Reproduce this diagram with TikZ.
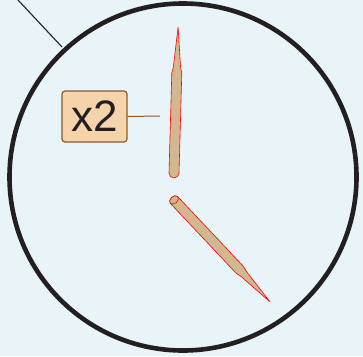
\documentclass[tikz,border=0pt]{standalone}
\usepackage{fontspec}
\setmainfont{Liberation Sans}
\definecolor{bgblue}{RGB}{232,244,248}
\definecolor{rimblack}{RGB}{35,31,32}
\definecolor{handtan}{RGB}{210,183,145}
\definecolor{tagfill}{RGB}{245,212,172}
\definecolor{tagbrown}{RGB}{139,90,43}
\begin{document}
\begin{tikzpicture}[x=1pt,y=-1pt,
  hand/.style={fill=handtan,draw=red,line width=.6pt,line join=round},
  tag/.style={draw=tagbrown,fill=tagfill,line width=1.2pt,rounded corners=3pt,
    minimum width=65pt,minimum height=51pt,inner sep=0pt,
    font=\fontsize{44}{44}\selectfont,text=rimblack}]
  \fill[bgblue](0,0) rectangle (363,356);
  \useasboundingbox(0,0) rectangle (363,356);
  % dial
  \coordinate (c) at (183,177);
  \draw[rimblack,line width=4.6pt](c) circle (173.5);
  \coordinate (rimhit) at (62,47);
  \draw[rimblack,line width=1.1pt](18,0)--(rimhit);
  % long hand
  \begin{scope}[shift={(174,173)},rotate=88.4]
    \draw[hand](0,5)--(100,5)--(106,3.6)--(146,0)--(106,-3.6)--(100,-5)--(0,-5)
      arc[start angle=-90,end angle=-270,radius=5]--cycle;
  \end{scope}
  \coordinate (handpt) at (160,116);
  % short hand
  \begin{scope}[shift={(174,200)},rotate=-46.7]
    \draw[hand](0,5)--(96,5)--(102,3.6)--(140,0)--(102,-3.6)--(96,-5)--(0,-5)
      arc[start angle=-90,end angle=-270,x radius=3.5,y radius=5]--cycle;
    \draw[hand](0,0) ellipse[x radius=3.5,y radius=5];
  \end{scope}
  % label
  \node[tag](twice) at (94.5,116.5) {x2};
  \draw[tagbrown,line width=1pt](twice.east)--(handpt);
\end{tikzpicture}
\end{document}
